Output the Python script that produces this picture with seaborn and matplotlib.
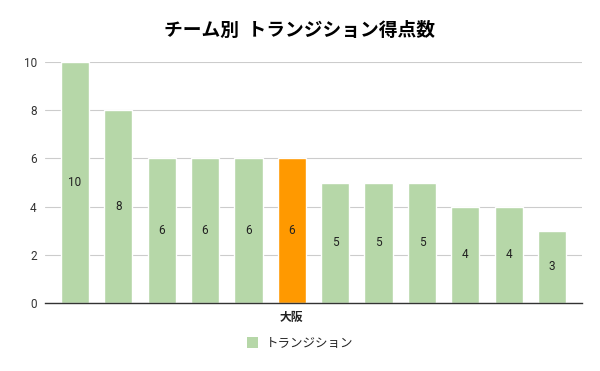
import matplotlib
matplotlib.use("Agg")
import matplotlib.pyplot as plt
import seaborn as sns
import pandas as pd
from matplotlib.patches import Patch

teams = ["チーム1", "チーム2", "チーム3", "チーム4", "チーム5", "大阪",
         "チーム7", "チーム8", "チーム9", "チーム10", "チーム11", "チーム12"]
points = [10, 8, 6, 6, 6, 6, 5, 5, 5, 4, 4, 3]
tick_labels = ["", "", "", "", "", "大阪", "", "", "", "", "", ""]
highlight = "大阪"
series_name = "トランジション"
title = "チーム別  トランジション得点数"

GREEN = "#b6d7a8"
ORANGE = "#ff9900"

sns.set_theme(style="white")
plt.rcParams['font.family'] = ['Noto Sans CJK JP', 'DejaVu Sans']

df = pd.DataFrame({"team": teams, "points": points})
palette = {t: (ORANGE if t == highlight else GREEN) for t in teams}

fig = plt.figure(figsize=(6, 3.71), dpi=100)
ax = fig.add_axes([0.075, 0.183, 0.895, 0.650])

sns.barplot(data=df, x="team", y="points", hue="team", palette=palette,
            width=0.65, legend=False, ax=ax, saturation=1, zorder=2)

ax.set_ylim(0, 10)
ax.set_yticks([0, 2, 4, 6, 8, 10])
ax.set_xlim(-0.69, len(teams) - 1 + 0.69)
ax.yaxis.grid(True, color="#cccccc", linewidth=0.8, zorder=0)
ax.set_axisbelow(True)
for s in ["top", "right", "left"]:
    ax.spines[s].set_visible(False)
ax.spines["bottom"].set_color("#333333")
ax.spines["bottom"].set_linewidth(1.0)

ax.set_xticks(range(len(teams)))
ax.set_xticklabels(tick_labels, fontsize=8.5, fontweight="bold", color="#222222")
ax.tick_params(axis="x", length=0, pad=6)
ax.tick_params(axis="y", length=0, labelsize=8.5, labelcolor="#333333", pad=6)
for lab in ax.get_yticklabels():
    lab.set_family("Roboto")
ax.set_xlabel("")
ax.set_ylabel("")

for i, v in enumerate(points):
    ax.text(i, v / 2, str(v), ha="center", va="center", fontsize=8.5,
            color="#222222", family="Roboto")

fig.suptitle(title, x=0.5, y=0.917, fontsize=13.5, fontweight="bold",
             color="#000000", va="center")

handles = [Patch(facecolor=GREEN, edgecolor="none", label=series_name)]
fig.legend(handles=handles, loc="center", bbox_to_anchor=(0.5, 0.075),
           frameon=False, fontsize=9, handlelength=0.9, handleheight=0.9,
           handletextpad=0.6)

fig.savefig("out.png", dpi=100)
